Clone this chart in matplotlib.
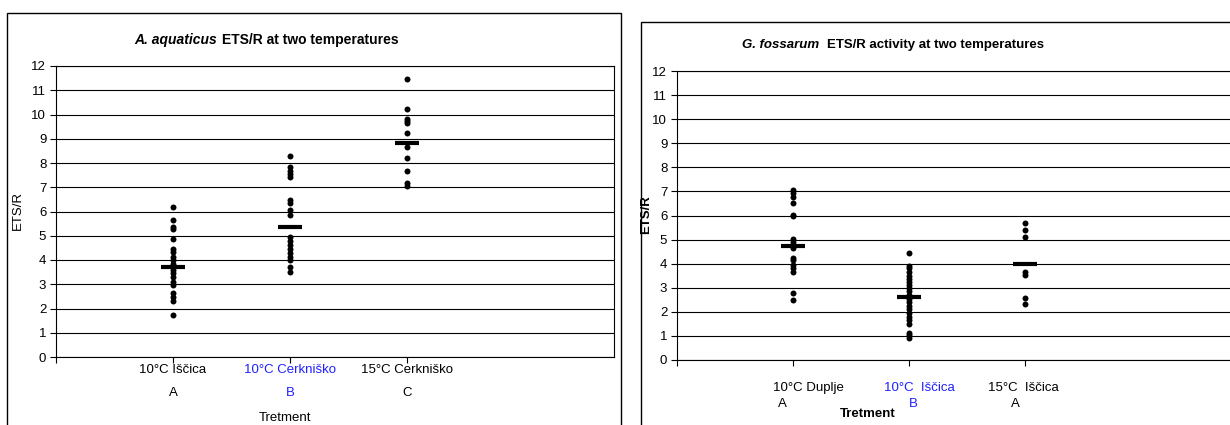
import matplotlib.pyplot as plt
from matplotlib.patches import Rectangle
from matplotlib.transforms import blended_transform_factory

plt.rcParams['font.family'] = ['Liberation Sans', 'DejaVu Sans']

# A. aquaticus (left)
aq_pos = [1, 2, 3]
aq_labels = ['10°C Iščica', '10°C Cerkniško', '15°C Cerkniško']
aq_letters = ['A', 'B', 'C']
aq_colors = ['black', '#1f1fff', 'black']
aq_a = [6.2, 5.65, 5.37, 5.26, 4.88, 4.44, 4.34, 4.13, 4.0, 3.85, 3.6, 3.45,
        3.3, 3.1, 2.97, 2.63, 2.49, 2.32, 1.73]
aq_b = [8.29, 7.85, 7.68, 7.55, 7.41, 6.47, 6.34, 6.06, 5.86, 4.94, 4.8, 4.62,
        4.45, 4.28, 4.13, 4.0, 3.72, 3.52]
aq_c = [11.48, 10.21, 9.83, 9.73, 9.65, 9.24, 8.66, 8.19, 7.68, 7.18, 7.04]
aq_mean = [3.71, 5.37, 8.84]

# G. fossarum (right)
gf_pos = [1, 2, 3]
gf_labels = ['10°C Duplje', '10°C  Iščica', '15°C  Iščica']
gf_letters = ['A', 'B', 'A']
gf_colors = ['black', '#1f1fff', 'black']
gf_a = [7.07, 6.92, 6.78, 6.5, 6.02, 5.96, 5.02, 4.91, 4.65, 4.25, 4.15, 3.94,
        3.8, 3.66, 2.77, 2.5]
gf_b = [4.45, 3.92, 3.8, 3.65, 3.5, 3.38, 3.25, 3.1, 2.98, 2.85, 2.7, 2.55,
        2.4, 2.25, 2.1, 1.95, 1.8, 1.65, 1.5, 1.13, 1.02, 0.9]
gf_c = [5.7, 5.39, 5.12, 3.66, 3.53, 2.56, 2.32]
gf_mean = [4.73, 2.63, 3.97]

W, H = 1230, 425
fig = plt.figure(figsize=(W / 100, H / 100), dpi=100)

# panel frames
fig.patches.append(Rectangle((7 / W, -0.1), 614 / W, 1 - 13 / H + 0.1,
                             transform=fig.transFigure, fill=False,
                             edgecolor='black', lw=1))
fig.patches.append(Rectangle((641 / W, -0.1), 0.6, 1 - 22 / H + 0.1,
                             transform=fig.transFigure, fill=False,
                             edgecolor='black', lw=1))


def panel(rect, groups, means, pos, right_spine):
    ax = fig.add_axes(rect)
    for p, g in zip(pos, groups):
        ax.plot([p] * len(g), g, 'o', color='black', ms=4.3, mew=0, zorder=3)
    ax.plot(pos, means, '_', color='black', ms=17, mew=3, zorder=4)
    ax.set_ylim(0, 12)
    ax.set_yticks(range(0, 13))
    ax.set_xticks([0] + pos)
    ax.set_xticklabels([])
    ax.grid(axis='y', color='black', lw=0.8)
    ax.set_axisbelow(True)
    for s in ['left', 'bottom', 'top']:
        ax.spines[s].set_linewidth(0.8)
    ax.spines['right'].set_visible(right_spine)
    ax.spines['right'].set_linewidth(0.8)
    ax.tick_params(axis='both', length=4, width=0.8, labelsize=9.5, pad=3)
    return ax


ax1 = panel([56 / W, 1 - 357 / H, (614 - 56) / W, (357 - 66) / H],
            [aq_a, aq_b, aq_c], aq_mean, aq_pos, True)
ax1.set_xlim(0, (614 - 56) / 117.0)

ax2 = panel([677 / W, 1 - 360 / H, (1232 - 677) / W, (360 - 71) / H],
            [gf_a, gf_b, gf_c], gf_mean, gf_pos, False)
ax2.set_xlim(0, (1232 - 677) / 116.0)


def two_part_title(x, y, italic, rest, size, gap):
    # italic species name followed by the bold rest, centred on x together
    r = fig.canvas.get_renderer()
    t1 = fig.text(0, y, italic, fontsize=size, fontweight='bold',
                  fontstyle='italic', ha='left', va='center')
    t2 = fig.text(0, y, rest, fontsize=size, fontweight='bold',
                  ha='left', va='center')
    w1 = t1.get_window_extent(r).width
    w2 = t2.get_window_extent(r).width
    x0 = x - (w1 + gap + w2) / 2
    t1.set_x(x0 / W)
    t2.set_x((x0 + w1 + gap) / W)


two_part_title(266, 1 - 40 / H, 'A. aquaticus', 'ETS/R at two temperatures',
               10, 5)
two_part_title(893, 1 - 45 / H, 'G. fossarum',
               'ETS/R activity at two temperatures', 9.5, 7)

# axis labels
fig.text(18 / W, 1 - 210 / H, 'ETS/R', fontsize=9.5, rotation=90,
         ha='center', va='center')
fig.text(646 / W, 1 - 215 / H, 'ETS/R', fontsize=9.5, fontweight='bold',
         rotation=90, ha='center', va='center')
fig.text(285 / W, 1 - 418 / H, 'Tretment', fontsize=9.5, ha='center',
         va='center')
fig.text(868 / W, 1 - 414 / H, 'Tretment', fontsize=9.5, fontweight='bold',
         ha='center', va='center')

# category labels
tr1 = blended_transform_factory(ax1.transData, fig.transFigure)
for p, lab, let, c in zip(aq_pos, aq_labels, aq_letters, aq_colors):
    ax1.text(p, 1 - 370 / H, lab, transform=tr1, color=c, fontsize=9.5,
             ha='center', va='center')
    ax1.text(p, 1 - 393 / H, let, transform=tr1, color=c, fontsize=9.5,
             ha='center', va='center')

tr2 = blended_transform_factory(ax2.transData, fig.transFigure)
let_off = [-0.09, 0.04, -0.08]
lab_off = [0.13, 0.09, -0.01]
for p, lab, let, c, lo, do in zip(gf_pos, gf_labels, gf_letters, gf_colors,
                                  let_off, lab_off):
    ax2.text(p + do, 1 - 388 / H, lab, transform=tr2, color=c, fontsize=9.5,
             ha='center', va='center')
    ax2.text(p + lo, 1 - 404 / H, let, transform=tr2, color=c, fontsize=9.5,
             ha='center', va='center')

fig.savefig('out.png', dpi=100)
